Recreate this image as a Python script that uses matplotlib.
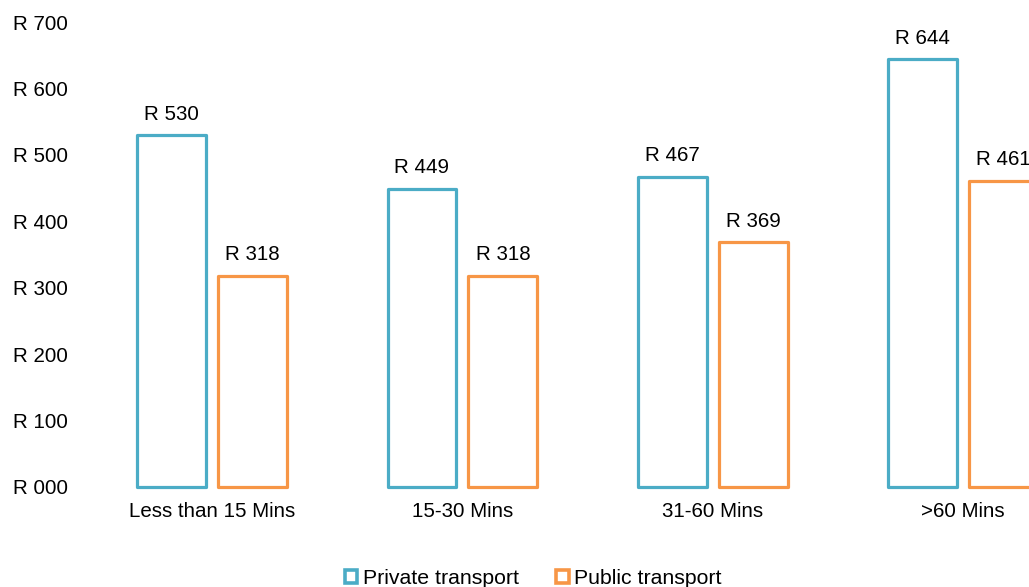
import matplotlib.pyplot as plt
from matplotlib.patches import Patch
from matplotlib.ticker import FuncFormatter
import numpy as np

plt.rcParams['font.family'] = ['Liberation Sans', 'DejaVu Sans']

# commute time groups and average cost per group
categories = ['Less than 15 Mins', '15-30 Mins', '31-60 Mins', '>60 Mins']
private_cost = [530, 449, 467, 644]
public_cost = [318, 318, 369, 461]
series_names = ['Private transport', 'Public transport']

teal = '#4BACC6'
orange = '#F79646'
fs = 14.8

fig = plt.figure(figsize=(10.29, 5.87), dpi=100)
# axes runs past the right edge, so the last bar gets cut off
ax = fig.add_axes([0.0845, 0.1704, 0.973, 0.792])

x = np.arange(len(categories))
w = 0.275
off = 0.1615
b1 = ax.bar(x - off, private_cost, w, facecolor='white', edgecolor=teal, linewidth=2.3,
            joinstyle='round', clip_on=False)
b2 = ax.bar(x + off, public_cost, w, facecolor='white', edgecolor=orange, linewidth=2.3,
            joinstyle='round', clip_on=False)

for bars, vals in ((b1, private_cost), (b2, public_cost)):
    for r, v in zip(bars, vals):
        ax.annotate(f'R {v}', (r.get_x() + r.get_width() / 2, v), xytext=(0, 15),
                    textcoords='offset points', ha='center', va='center', fontsize=fs)

ax.set_xlim(-0.5, 3.5)
ax.set_ylim(0, 700)
ax.set_yticks(range(0, 701, 100))
ax.yaxis.set_major_formatter(FuncFormatter(lambda v, p: f'R {int(v):03d}'))
ax.set_xticks(x)
ax.set_xticklabels(categories)
ax.tick_params(axis='y', length=0, pad=14, labelsize=fs)
ax.tick_params(axis='x', length=0, pad=11, labelsize=fs)
for s in ax.spines.values():
    s.set_visible(False)

handles = [Patch(facecolor='white', edgecolor=teal, linewidth=2.6),
           Patch(facecolor='white', edgecolor=orange, linewidth=2.6)]
fig.legend(handles, series_names, loc='lower center', bbox_to_anchor=(0.518, -0.034), ncol=2,
           frameon=False, fontsize=15.3, handlelength=0.6, handleheight=0.6,
           handletextpad=0.25, columnspacing=1.75)

fig.savefig('out.png', dpi=100)
